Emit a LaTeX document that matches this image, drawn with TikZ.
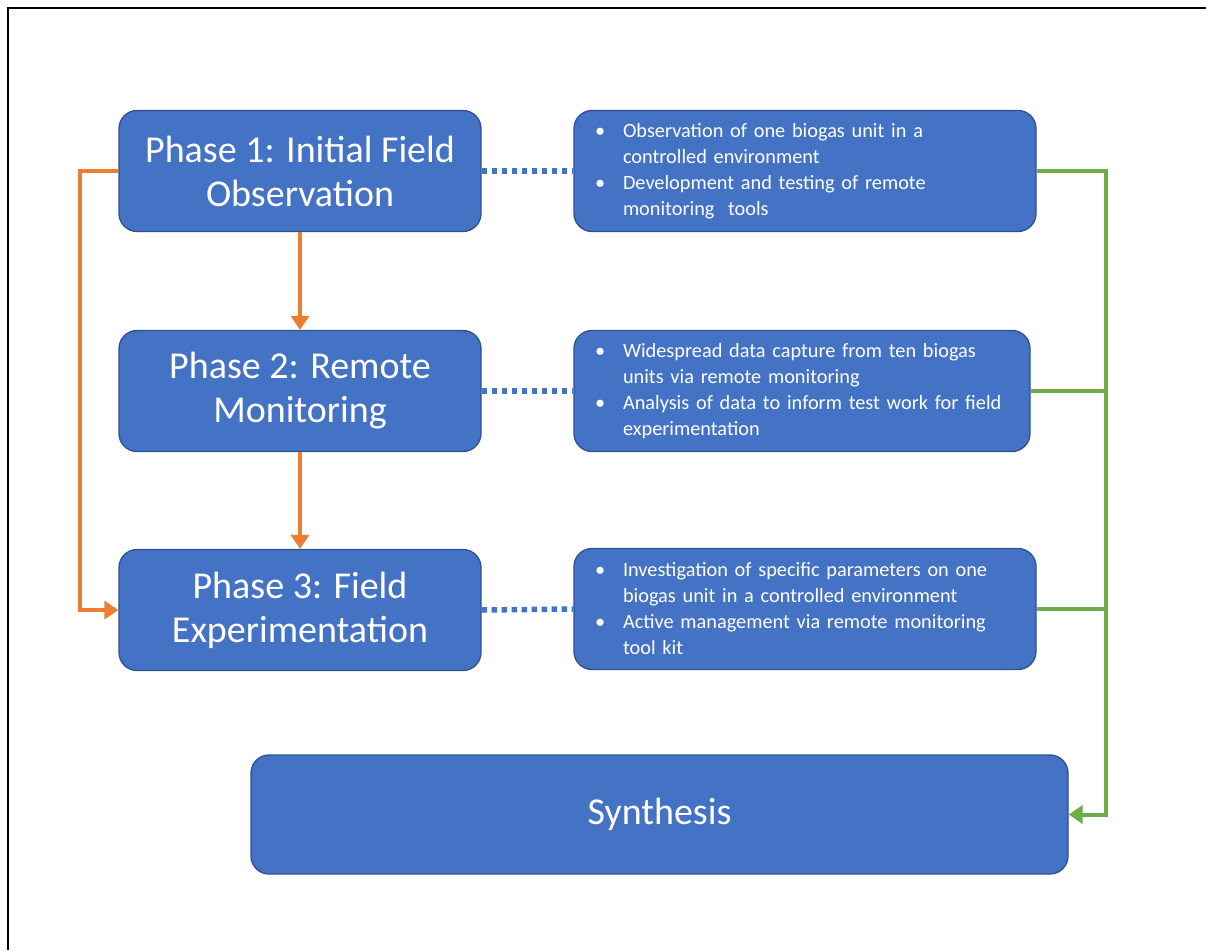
\documentclass[tikz,border=0pt]{standalone}
\usepackage{fontspec}
\setmainfont{Carlito}
\usetikzlibrary{arrows.meta}
\definecolor{boxfill}{HTML}{4472C4}
\definecolor{boxline}{HTML}{2F528F}
\definecolor{orng}{HTML}{ED7D31}
\definecolor{grn}{HTML}{70AD47}
\newcommand\bul{\makebox[28pt][l]{•}}
\newcommand\ind{\hspace*{28pt}}
\begin{document}
\begin{tikzpicture}[x=1pt,y=-1pt,
 phase/.style={draw=boxline, line width=1.3pt, fill=boxfill, rounded corners=18pt, text=white, font=\fontsize{38}{44}\selectfont, align=center, minimum width=362pt, minimum height=121pt, inner sep=0pt},
 detail/.style={draw=boxline, line width=1.3pt, fill=boxfill, rounded corners=18pt, text=white, font=\fontsize{20.3}{26}\selectfont, align=left, minimum height=121pt, inner xsep=21pt, inner ysep=0pt},
 flow/.style={orng, line width=4pt, -{Triangle[width=18pt,length=14pt]}},
 dotlink/.style={boxfill, line width=5.5pt, dash pattern=on 5.5pt off 4.5pt},
 merge/.style={grn, line width=4pt},
]
\useasboundingbox (0,0) rectangle (1206,950);
\draw[line width=2pt] (8,950) -- (8,8) -- (1206,8);

\node[phase] (p1) at (300,171) {Phase 1: Initial Field\\Observation};
\node[phase] (p2) at (300,391) {Phase 2: Remote\\Monitoring};
\node[phase] (p3) at (300,610) {Phase 3: Field\\Experimentation};

\node[detail, text width=420pt] (d1) at (805,171) {\bul Observation of one biogas unit in a\\\ind controlled environment\\\bul Development and testing of remote\\\ind monitoring\ \ tools};
\node[detail, text width=414pt] (d2) at (802,391) {\bul Widespread data capture from ten biogas\\\ind units via remote monitoring\\\bul Analysis of data to inform test work for field\\\ind experimentation};
\node[detail, text width=420pt] (d3) at (805,609) {\bul Investigation of specific parameters on one\\\ind biogas unit in a controlled environment\\\bul Active management via remote monitoring\\\ind tool kit};

\node[phase, minimum width=817pt, minimum height=119pt] (s) at (659.5,814.5) {Synthesis};

\coordinate (o1) at (80,171);
\coordinate (o2) at (80,610);
\draw[flow] (p1.west) -- (o1) -- (o2) -- (p3.west);
\draw[flow] (p1.south) -- (p2.north);
\draw[flow] (p2.south) -- (p3.north);

\draw[dotlink] (p1.east) -- (d1.west);
\draw[dotlink] (p2.east) -- (d2.west);
\draw[dotlink] (p3.east) -- (d3.west);

\coordinate (g1) at (1106,171);
\coordinate (g4) at (1106,814.5);
\draw[merge, -{Triangle[width=18pt,length=14pt]}] (d1.east) -- (g1) -- (g4) -- (s.east);
\draw[merge] (d2.east) -- (d2.east -| g1);
\draw[merge] (d3.east) -- (d3.east -| g1);
\end{tikzpicture}
\end{document}
